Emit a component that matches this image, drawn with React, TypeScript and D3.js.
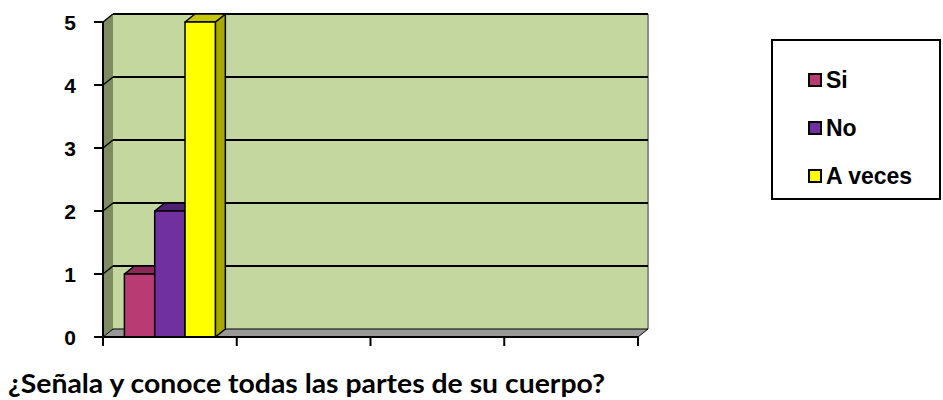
// @ts-nocheck
import * as d3 from "d3";

// chart data
const categories = ["c1", "c2", "c3", "c4"];
const seriesNames = ["Si", "No", "A veces"];
const siValues = [1, null, null, null];
const noValues = [2, null, null, null];
const aVecesValues = [5, null, null, null];
const yTicks = [0, 1, 2, 3, 4, 5];
const title = "¿Señala y conoce todas las partes de su cuerpo?";

const seriesColors = [
  { front: "#b83b74", top: "#8a2b57", side: "#8a2b57" },
  { front: "#7030a0", top: "#4f2173", side: "#4f2173" },
  { front: "#ffff00", top: "#c8c800", side: "#a8a800" },
];

const App = () => {
  const width = 943, height = 400;
  const margin = { left: 103, right: 305, top: 22, bottom: 63 };
  const dx = 10, dy = -8; // 3d depth

  const series = [siValues, noValues, aVecesValues];

  const yScale = d3.scaleLinear().domain([0, 5]).range([height - margin.bottom, margin.top]);
  const xScale = d3.scaleBand().domain(categories).range([margin.left, width - margin.right]).paddingInner(0);
  const groupW = xScale.bandwidth() * 0.68;
  const barScale = d3.scaleBand().domain(seriesNames).range([0, groupW]);

  const x0 = margin.left, x1 = width - margin.right;
  const yBase = yScale(0);
  const yTop = yScale(5);

  const bars = [];
  categories.forEach((c, ci) => {
    series.forEach((vals, si) => {
      const v = vals[ci];
      if (v == null) return;
      const bx = xScale(c) + (xScale.bandwidth() - groupW) / 2 + barScale(seriesNames[si]);
      const bw = barScale.bandwidth();
      const by = yScale(v);
      bars.push({ bx, bw, by, si });
    });
  });
  const legendY = [80, 128, 176];

  return (
    <svg width={width} height={height} style={{ position: "absolute", left: 0, top: 0 }}>
      {/* side wall */}
      <polygon points={`${x0},${yTop} ${x0 + dx},${yTop + dy} ${x0 + dx},${yBase + dy} ${x0},${yBase}`} fill="#7f8c61" />
      {/* back wall */}
      <rect x={x0 + dx} y={yTop + dy} width={x1 - x0} height={yBase - yTop} fill="#c4d79f" />
      <line x1={x1 + dx} x2={x1 + dx} y1={yTop + dy} y2={yBase + dy} stroke="#8c8c8c" strokeWidth={2} />
      {/* floor */}
      <polygon points={`${x0},${yBase} ${x1},${yBase} ${x1 + dx},${yBase + dy} ${x0 + dx},${yBase + dy}`} fill="#999999" stroke="#000" strokeWidth={1} />
      {/* grid */}
      {yTicks.filter(t => t > 0).map(t => (
        <g key={t}>
          <line x1={x0 + dx} x2={x1 + dx} y1={yScale(t) + dy} y2={yScale(t) + dy} stroke="#000" strokeWidth={2} />
          <line x1={x0} x2={x0 + dx} y1={yScale(t)} y2={yScale(t) + dy} stroke="#000" strokeWidth={1.5} />
        </g>
      ))}
      {/* bars, left to right so the next front face hides the previous side */}
      {bars.map((b, i) => {
        const c = seriesColors[b.si];
        return (
          <g key={i} stroke="#000" strokeWidth={1.5} strokeLinejoin="round">
            <polygon points={`${b.bx + b.bw},${b.by} ${b.bx + b.bw + dx},${b.by + dy} ${b.bx + b.bw + dx},${yBase + dy} ${b.bx + b.bw},${yBase}`} fill={c.side} />
            <polygon points={`${b.bx},${b.by} ${b.bx + dx},${b.by + dy} ${b.bx + b.bw + dx},${b.by + dy} ${b.bx + b.bw},${b.by}`} fill={c.top} />
            <rect x={b.bx} y={b.by} width={b.bw} height={yBase - b.by} fill={c.front} />
          </g>
        );
      })}
      {/* y axis */}
      <line x1={x0} x2={x0} y1={yTop} y2={yBase} stroke="#000" strokeWidth={2} />
      {yTicks.map(t => (
        <g key={t}>
          <line x1={x0 - 9} x2={x0} y1={yScale(t)} y2={yScale(t)} stroke="#000" strokeWidth={2} />
          <text x={x0 - 27} y={yScale(t)} textAnchor="end" dominantBaseline="central"
            fontFamily="Liberation Sans, Arial, sans-serif" fontWeight="bold" fontSize={21}>{t}</text>
        </g>
      ))}
      {/* x axis */}
      <line x1={x0} x2={x1} y1={yBase} y2={yBase} stroke="#000" strokeWidth={2} />
      {[...categories.map(c => xScale(c)), x1].map((x, i) => (
        <line key={i} x1={x} x2={x} y1={yBase} y2={yBase + 9} stroke="#000" strokeWidth={2} />
      ))}
      {/* axis title */}
      <text x={8} y={393} fontFamily="Lato, 'Open Sans', sans-serif" fontWeight="bold" fontSize={26}
        textLength={597} lengthAdjust="spacingAndGlyphs">{title}</text>
      {/* legend */}
      <rect x={772} y={40} width={168} height={159} fill="#fff" stroke="#000" strokeWidth={2} />
      {seriesNames.map((s, i) => (
        <g key={s}>
          <rect x={809} y={legendY[i] - 6} width={12} height={12} fill={seriesColors[i].front} stroke="#000" strokeWidth={2} />
          <text x={826} y={legendY[i]} dominantBaseline="central" fontFamily="Liberation Sans, Arial, sans-serif"
            fontWeight="bold" fontSize={23}>{s}</text>
        </g>
      ))}
    </svg>
  );
};

export default App;
